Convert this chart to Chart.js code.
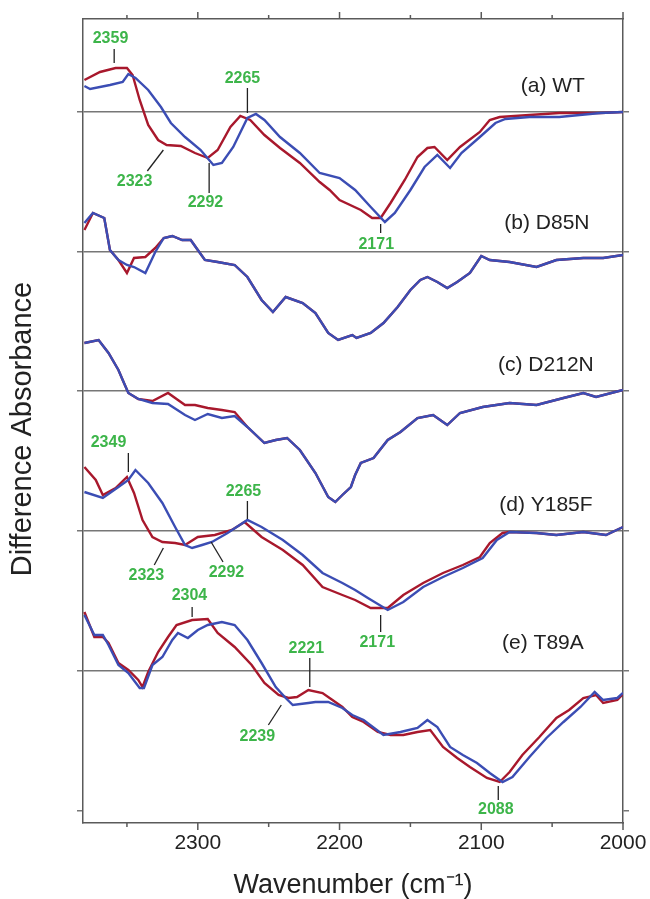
<!DOCTYPE html>
<html>
<head>
<meta charset="utf-8">
<script src="https://cdn.jsdelivr.net/npm/chart.js@4.4.1/dist/chart.umd.min.js"></script>
<style>
  html, body { margin: 0; padding: 0; background: #fff; }
  #grafico { display: block; }
</style>
</head>
<body>
<canvas id="grafico" width="650" height="899"></canvas>
<script>
const panelNames = ['(a) WT', '(b) D85N', '(c) D212N', '(d) Y185F', '(e) T89A'];
const panelOffsets = [71.1, 57.1, 43.2, 29.2, 15.2];

const wnARed  = [2380, 2369, 2358, 2350, 2346, 2341, 2335, 2328, 2322, 2312, 2302, 2293, 2286, 2277, 2270, 2263, 2253, 2242, 2228, 2214, 2207, 2200, 2185, 2177, 2171, 2164, 2154, 2145, 2138, 2133, 2124, 2115, 2101, 2094, 2087, 2066, 2045, 2016, 2000];
const absARed = [3.2, 4.0, 4.4, 4.4, 3.7, 1.2, -1.3, -2.8, -3.3, -3.4, -4.1, -4.6, -3.8, -1.5, -0.4, -0.8, -2.3, -3.6, -5.1, -7.0, -7.8, -8.8, -9.8, -10.6, -10.6, -9.1, -6.8, -4.5, -3.6, -3.5, -4.8, -3.5, -2.0, -0.8, -0.5, -0.3, -0.1, -0.1, 0];
const wnABlue  = [2380, 2376, 2362, 2353, 2349, 2344, 2335, 2326, 2319, 2309, 2298, 2289, 2283, 2275, 2265, 2259, 2253, 2242, 2228, 2214, 2200, 2189, 2178, 2168, 2161, 2150, 2140, 2131, 2122, 2114, 2101, 2090, 2083, 2066, 2045, 2016, 2000];
const absABlue = [2.6, 2.3, 2.7, 3.0, 3.8, 3.4, 2.2, 0.5, -1.1, -2.5, -3.8, -5.3, -5.1, -3.5, -0.6, -0.2, -0.8, -2.5, -4.1, -6.1, -6.6, -7.8, -9.5, -11.0, -10.1, -7.8, -5.5, -4.3, -5.6, -4.1, -2.5, -1.1, -0.7, -0.5, -0.5, -0.1, 0];

const wnB      = [2380, 2374, 2366, 2362, 2356, 2350, 2345, 2337, 2330, 2324, 2318, 2311, 2305, 2300, 2295, 2286, 2274, 2265, 2255, 2247, 2238, 2226, 2217, 2208, 2201, 2191, 2188, 2178, 2169, 2159, 2150, 2143, 2138, 2131, 2124, 2117, 2108, 2100, 2094, 2080, 2061, 2047, 2028, 2014, 2000];
const absBRed  = [2.2, 3.9, 3.4, 0.2, -0.8, -2.1, -0.6, -0.5, 0.4, 1.4, 1.6, 1.2, 1.2, 0.2, -0.8, -1.0, -1.3, -2.5, -4.8, -6.0, -4.5, -5.1, -6.1, -8.1, -8.8, -8.3, -8.6, -8.1, -7.1, -5.5, -3.8, -2.8, -2.5, -3.0, -3.6, -3.0, -2.1, -0.4, -0.8, -1.0, -1.5, -0.8, -0.6, -0.6, -0.3];
const absBBlue = [2.9, 3.9, 3.4, 0.2, -0.8, -1.3, -1.5, -2.1, 0.0, 1.4, 1.6, 1.2, 1.2, 0.2, -0.8, -1.0, -1.3, -2.5, -4.8, -6.0, -4.5, -5.1, -6.1, -8.1, -8.8, -8.3, -8.6, -8.1, -7.1, -5.5, -3.8, -2.8, -2.5, -3.0, -3.6, -3.0, -2.1, -0.4, -0.8, -1.0, -1.5, -0.8, -0.6, -0.6, -0.3];

const wnC      = [2380, 2370, 2363, 2356, 2353, 2349, 2342, 2332, 2321, 2309, 2302, 2293, 2283, 2274, 2265, 2253, 2245, 2237, 2228, 2217, 2208, 2203, 2198, 2192, 2189, 2185, 2176, 2166, 2157, 2145, 2134, 2124, 2115, 2099, 2080, 2061, 2042, 2028, 2019, 2000];
const absCRed  = [4.8, 5.1, 3.8, 2.1, 1.1, -0.2, -0.8, -1.0, -0.2, -1.4, -1.4, -1.7, -1.9, -2.1, -3.6, -5.2, -4.9, -4.7, -5.9, -8.2, -10.6, -11.1, -10.4, -9.6, -8.4, -7.2, -6.7, -4.9, -4.1, -2.7, -2.4, -3.4, -2.2, -1.6, -1.2, -1.4, -0.7, -0.2, -0.6, 0.1];
const absCBlue = [4.8, 5.1, 3.8, 2.1, 1.1, -0.2, -0.8, -1.2, -1.3, -2.4, -2.9, -2.3, -2.7, -2.5, -3.6, -5.2, -4.9, -4.7, -5.9, -8.2, -10.6, -11.1, -10.4, -9.6, -8.4, -7.2, -6.7, -4.9, -4.1, -2.7, -2.4, -3.4, -2.2, -1.6, -1.2, -1.4, -0.7, -0.2, -0.6, 0.1];

const wnDRed  = [2380, 2372, 2367, 2358, 2350, 2345, 2339, 2332, 2325, 2316, 2309, 2300, 2288, 2276, 2267, 2255, 2240, 2226, 2212, 2198, 2189, 2178, 2166, 2155, 2141, 2127, 2113, 2101, 2094, 2085, 2080, 2061, 2047, 2028, 2012, 2000];
const absDRed = [6.4, 5.1, 3.6, 4.3, 5.4, 3.8, 1.1, -0.6, -1.1, -1.2, -1.4, -0.6, -0.4, 0.1, 0.9, -0.6, -1.9, -3.4, -5.6, -6.4, -6.9, -7.7, -7.7, -6.4, -5.2, -4.2, -3.4, -2.6, -1.2, -0.2, -0.1, -0.2, -0.4, -0.1, -0.4, 0.4];
const wnDBlue  = [2380, 2367, 2356, 2349, 2344, 2335, 2325, 2316, 2309, 2304, 2297, 2290, 2279, 2265, 2255, 2240, 2226, 2212, 2198, 2189, 2180, 2166, 2155, 2141, 2127, 2113, 2099, 2089, 2080, 2061, 2047, 2028, 2012, 2000];
const absDBlue = [3.9, 3.3, 4.4, 5.1, 6.1, 4.8, 2.8, 0.4, -1.4, -1.7, -1.4, -1.1, -0.2, 1.1, 0.4, -0.9, -2.4, -4.2, -5.2, -5.9, -6.7, -7.9, -7.1, -5.6, -4.6, -3.7, -2.7, -0.9, -0.1, -0.2, -0.4, -0.1, -0.4, 0.4];

const wnERed  = [2380, 2373, 2367, 2363, 2356, 2349, 2342, 2339, 2335, 2328, 2321, 2315, 2304, 2293, 2286, 2274, 2262, 2253, 2243, 2236, 2230, 2222, 2212, 2205, 2198, 2191, 2183, 2173, 2164, 2155, 2145, 2136, 2127, 2117, 2108, 2096, 2087, 2080, 2071, 2059, 2047, 2038, 2028, 2019, 2014, 2004, 2000];
const absERed = [5.9, 3.4, 3.4, 2.8, 0.8, 0.1, -0.9, -1.6, -0.1, 1.9, 3.4, 4.6, 5.1, 5.2, 3.8, 2.4, 0.6, -1.2, -2.4, -2.7, -2.6, -1.9, -2.2, -2.9, -3.6, -4.6, -5.1, -6.1, -6.4, -6.4, -6.1, -5.9, -7.6, -8.7, -9.6, -10.7, -11.1, -10.1, -8.4, -6.6, -4.7, -3.9, -2.7, -2.4, -3.2, -2.9, -2.3];
const wnEBlue  = [2380, 2373, 2367, 2363, 2356, 2349, 2341, 2338, 2332, 2325, 2318, 2314, 2307, 2300, 2293, 2283, 2274, 2265, 2255, 2245, 2238, 2233, 2222, 2217, 2208, 2198, 2191, 2183, 2169, 2157, 2145, 2138, 2131, 2122, 2113, 2103, 2094, 2085, 2078, 2066, 2054, 2042, 2030, 2020, 2014, 2004, 2000];
const absEBlue = [5.6, 3.6, 3.6, 2.6, 0.6, -0.2, -1.7, -1.7, 0.6, 1.4, 3.1, 3.8, 3.3, 4.1, 4.6, 4.9, 4.6, 3.1, 0.8, -1.6, -2.7, -3.4, -3.2, -3.1, -3.1, -3.7, -4.4, -4.9, -6.4, -6.1, -5.7, -4.9, -5.6, -7.6, -8.4, -9.2, -10.2, -11.1, -10.6, -8.6, -6.7, -5.1, -3.6, -2.1, -2.9, -2.7, -2.2];

const xTickLabels = [2300, 2200, 2100, 2000];
const xTickMarks = [2350, 2300, 2250, 2200, 2150, 2100, 2050, 2000];
const yTickBottom = 1.2;

// Rotulos dos picos: [painel, texto, wn do texto, dy do texto, x1, y1, x2, y2] (dy relativo a linha de base)
const peakLabels = [
  [0, '2359', 2361.6, 7.3, 2359, 6.3, 2359, 4.9],
  [0, '2265', 2268.5, 3.3, 2265, 2.4, 2265, -0.1],
  [0, '2323', 2344.6, -7.0, 2324.3, -3.8, 2335.6, -5.9],
  [0, '2292', 2294.6, -9.1, 2292, -5.1, 2292, -8.1],
  [0, '2171', 2174.1, -13.3, 2171, -11.2, 2171, -12.1],
  [3, '2349', 2363.0, 8.8, 2349, 7.8, 2349, 5.9],
  [3, '2265', 2267.8, 3.9, 2265, 3.0, 2265, 1.2],
  [3, '2323', 2336.3, -4.5, 2324.3, -1.7, 2330.7, -3.4],
  [3, '2292', 2279.8, -4.2, 2290.6, -1.1, 2282.2, -3.1],
  [3, '2171', 2173.4, -11.2, 2171, -8.4, 2171, -10.1],
  [4, '2304', 2305.9, 7.5, 2304, 6.4, 2304, 5.4],
  [4, '2221', 2223.4, 2.2, 2221, 1.3, 2221, -1.6],
  [4, '2239', 2258.0, -6.6, 2241.1, -3.4, 2250.2, -5.4],
  [4, '2088', 2089.7, -13.9, 2088, -11.5, 2088, -12.9]
];
const panelLabelPos = [[2049.5, 2.6], [2053.7, 2.9], [2054.4, 2.6], [2054.4, 2.6], [2056.5, 2.8]];

const FONTE = "'Liberation Sans', Arial, Helvetica, sans-serif";
const VERMELHO = '#a8182c';
const AZUL = '#3b4db4';
const VERDE = '#3db54a';
const EIXO = '#5a5a5a';
const GRADE = '#777777';

Chart.defaults.font.family = FONTE;

function serie(painel, wn, abs, cor, ordem) {
  return {
    data: wn.map((w, i) => ({ x: w, y: abs[i] + panelOffsets[painel] })),
    borderColor: cor,
    borderWidth: 2.4,
    pointRadius: 0,
    tension: 0,
    fill: false,
    order: ordem
  };
}

const datasets = [
  serie(0, wnARed, absARed, VERMELHO, 1), serie(0, wnABlue, absABlue, AZUL, 0),
  serie(1, wnB, absBRed, VERMELHO, 1), serie(1, wnB, absBBlue, AZUL, 0),
  serie(2, wnC, absCRed, VERMELHO, 1), serie(2, wnC, absCBlue, AZUL, 0),
  serie(3, wnDRed, absDRed, VERMELHO, 1), serie(3, wnDBlue, absDBlue, AZUL, 0),
  serie(4, wnERed, absERed, VERMELHO, 1), serie(4, wnEBlue, absEBlue, AZUL, 0)
];

const yTicks = panelOffsets.concat([yTickBottom]);

// Marcas do eixo x (maiores a cada 100, menores a cada 50), em cima e embaixo
const marcasX = {
  id: 'marcasX',
  afterDraw(chart) {
    const { ctx, chartArea: { top, bottom } } = chart;
    const x = chart.scales.x;
    ctx.save();
    ctx.strokeStyle = EIXO;
    ctx.lineWidth = 1.5;
    xTickMarks.forEach(v => {
      const px = x.getPixelForValue(v);
      const len = v % 100 === 0 ? 7 : 4;
      ctx.beginPath();
      ctx.moveTo(px, bottom);
      ctx.lineTo(px, bottom + len);
      ctx.moveTo(px, top);
      ctx.lineTo(px, top - len);
      ctx.stroke();
    });
    ctx.restore();
  }
};

// Nomes dos paineis e rotulos verdes dos picos
const anotacoes = {
  id: 'anotacoes',
  afterDatasetsDraw(chart) {
    const { ctx } = chart;
    const x = chart.scales.x;
    const y = chart.scales.y;
    ctx.save();
    ctx.textAlign = 'center';
    ctx.textBaseline = 'middle';

    ctx.font = '21px ' + FONTE;
    ctx.fillStyle = '#222';
    panelNames.forEach((nome, i) => {
      const [wn, dy] = panelLabelPos[i];
      ctx.fillText(nome, x.getPixelForValue(wn), y.getPixelForValue(panelOffsets[i] + dy));
    });

    ctx.font = 'bold 16px ' + FONTE;
    ctx.fillStyle = VERDE;
    ctx.strokeStyle = '#222';
    ctx.lineWidth = 1.3;
    peakLabels.forEach(([p, texto, tw, ty, x1, y1, x2, y2]) => {
      const base = panelOffsets[p];
      ctx.fillText(texto, x.getPixelForValue(tw), y.getPixelForValue(base + ty));
      ctx.beginPath();
      ctx.moveTo(x.getPixelForValue(x1), y.getPixelForValue(base + y1));
      ctx.lineTo(x.getPixelForValue(x2), y.getPixelForValue(base + y2));
      ctx.stroke();
    });
    ctx.restore();
  }
};

const ctx = document.getElementById('grafico').getContext('2d');
new Chart(ctx, {
  type: 'line',
  data: { datasets: datasets },
  options: {
    responsive: false,
    animation: false,
    layout: { padding: 0 },
    plugins: {
      legend: { display: false },
      tooltip: { enabled: false }
    },
    scales: {
      x: {
        type: 'linear',
        position: 'bottom',
        reverse: true,
        min: 2000,
        max: 2381,
        afterBuildTicks: s => { s.ticks = xTickLabels.map(v => ({ value: v })); },
        afterFit: s => { s.height = 76; },
        // marcas transparentes: so afastam os numeros do eixo (as visiveis vem do plugin)
        grid: { display: true, drawOnChartArea: false, tickLength: 8, tickColor: 'rgba(0,0,0,0)' },
        border: { display: true, color: EIXO, width: 1.5 },
        ticks: {
          padding: 0,
          color: '#222',
          font: { size: 21 },
          maxRotation: 0,
          autoSkip: false,
          callback: v => String(v)
        },
        title: {
          display: true,
          text: 'Wavenumber (cm⁻¹)',
          color: '#222',
          font: { size: 27, lineHeight: 1 },
          padding: 0
        }
      },
      xTop: {
        type: 'linear',
        position: 'top',
        reverse: true,
        min: 2000,
        max: 2381,
        afterFit: s => { s.height = 19; },
        grid: { display: false },
        border: { display: true, color: EIXO, width: 1.5 },
        ticks: { display: false }
      },
      y: {
        type: 'linear',
        position: 'left',
        min: 0,
        max: 80.4,
        afterBuildTicks: s => { s.ticks = yTicks.map(v => ({ value: v })); },
        afterFit: s => { s.width = 83; },
        grid: {
          color: c => (c.tick && c.tick.value === yTickBottom) ? 'rgba(0,0,0,0)' : GRADE,
          tickColor: GRADE,
          lineWidth: 1.5,
          tickLength: 6
        },
        border: { display: true, color: EIXO, width: 1.5 },
        ticks: { display: false },
        title: {
          display: true,
          text: 'Difference Absorbance  ',
          color: '#222',
          font: { size: 29 },
          padding: { top: 6 }
        }
      },
      yRight: {
        type: 'linear',
        position: 'right',
        min: 0,
        max: 80.4,
        afterBuildTicks: s => { s.ticks = yTicks.map(v => ({ value: v })); },
        afterFit: s => { s.width = 27; },
        grid: {
          drawOnChartArea: false,
          tickColor: GRADE,
          lineWidth: 1.5,
          tickLength: 6
        },
        border: { display: true, color: EIXO, width: 1.5 },
        ticks: { display: false }
      }
    }
  },
  plugins: [marcasX, anotacoes]
});
</script>
</body>
</html>
